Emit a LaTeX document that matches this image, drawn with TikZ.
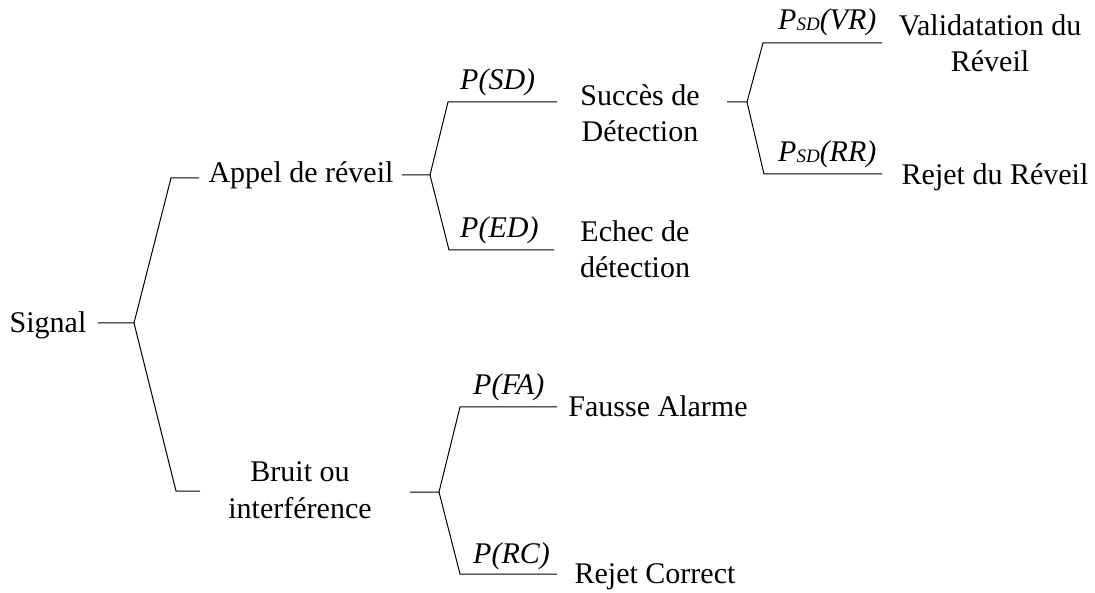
\documentclass[tikz,border=0pt]{standalone}
\usepackage{fontspec}
\setmainfont{Liberation Serif}
\begin{document}
\begin{tikzpicture}[x=1pt,y=-1pt,
  txt/.style={inner sep=0pt,anchor=base,align=center,font=\fontsize{30}{36.5}\selectfont},
  prob/.style={inner sep=0pt,anchor=base west,font=\fontsize{30}{36.5}\selectfont\itshape},
  branch/.style={line width=1pt,black}]
\useasboundingbox (0,0) rectangle (1095,593);
\newcommand{\sdsub}{{\fontsize{19}{19}\selectfont\raisebox{-1pt}{SD}}}
% text nodes (multi-line: base = last line)
\node[txt] (signal) at (48,333) {Signal};
\node[txt] (appel) at (301,183) {Appel de réveil};
\node[txt] (bruit) at (300,518) {Bruit ou\\interférence};
\node[txt] (succes) at (640,142) {Succès de\\Détection};
\node[txt] (echec) at (635,278) {Echec de\\détection};
\node[txt] (valid) at (990,72) {Validatation du\\Réveil};
\node[txt] (rejetr) at (995,185) {Rejet du Réveil};
\node[txt] (fausse) at (658,417) {Fausse Alarme};
\node[txt] (rejetc) at (655,583) {Rejet Correct};
% probability labels
\node[prob] (psd) at (460,90) {P(SD)};
\node[prob] (ped) at (460,238) {P(ED)};
\node[prob] (pfa) at (473,395) {P(FA)};
\node[prob] (prc) at (473,563) {P(RC)};
\node[prob] (pvr) at (778,30) {P\sdsub(VR)};
\node[prob] (prr) at (778,162) {P\sdsub(RR)};
% branch coordinates
\coordinate (s0) at (98,323);  \coordinate (s1) at (134,323);
\coordinate (s2) at (171,178); \coordinate (s3) at (199,178);
\coordinate (s4) at (176,491); \coordinate (s5) at (200,491);
\coordinate (a0) at (402,175); \coordinate (a1) at (430,175);
\coordinate (a2) at (448,102); \coordinate (a3) at (557,102);
\coordinate (a4) at (449,250); \coordinate (a5) at (554,250);
\coordinate (d0) at (727,102); \coordinate (d1) at (747,102);
\coordinate (d2) at (763,43);  \coordinate (d3) at (882,43);
\coordinate (d4) at (764,174); \coordinate (d5) at (882,174);
\coordinate (b0) at (410,492); \coordinate (b1) at (439,492);
\coordinate (b2) at (460,407); \coordinate (b3) at (557,407);
\coordinate (b4) at (460,574); \coordinate (b5) at (557,574);
% branches
\draw[branch] (s0) -- (s1) -- (s2) -- (s3);
\draw[branch] (s1) -- (s4) -- (s5);
\draw[branch] (a0) -- (a1) -- (a2) -- (a3);
\draw[branch] (a1) -- (a4) -- (a5);
\draw[branch] (d0) -- (d1) -- (d2) -- (d3);
\draw[branch] (d1) -- (d4) -- (d5);
\draw[branch] (b0) -- (b1) -- (b2) -- (b3);
\draw[branch] (b1) -- (b4) -- (b5);
\end{tikzpicture}
\end{document}
